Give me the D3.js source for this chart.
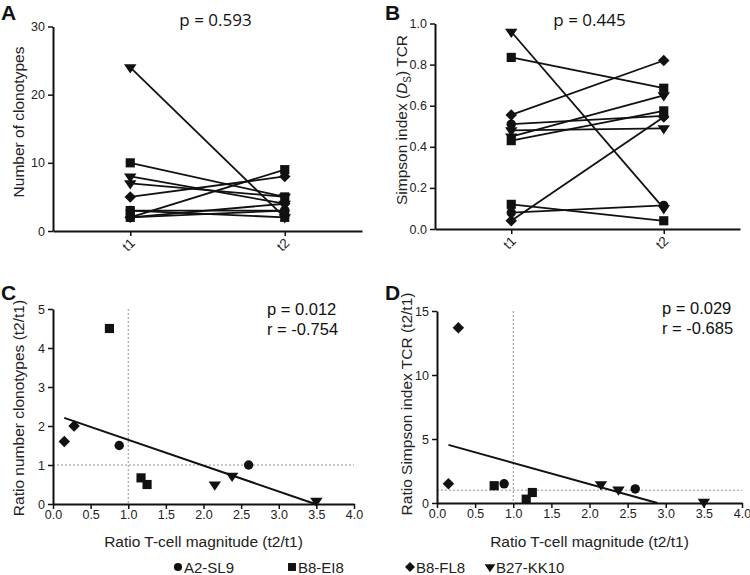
<!DOCTYPE html>
<html>
<head>
<meta charset="utf-8">
<script src="https://cdn.jsdelivr.net/npm/d3@7"></script>
<style>
  html, body { margin: 0; padding: 0; background: #fff; }
  svg { display: block; font-family: "Liberation Sans", Arial, sans-serif; }
</style>
</head>
<body>
<svg id="chart" width="750" height="575"></svg>
<script>
// ---------------- DATA ----------------
const groups = ["A2-SL9", "B8-EI8", "B8-FL8", "B27-KK10"];
const timepoints = ["t1", "t2"];
// one entry per subject
const subjectGroup = ["B27-KK10", "B8-EI8", "B27-KK10", "B27-KK10", "B8-FL8", "B8-EI8", "B8-EI8", "A2-SL9", "A2-SL9", "B8-FL8"];
const clonotypesT1 = [24, 10, 8, 7, 5, 2, 3, 2, 3, 2];
const clonotypesT2 = [2, 5, 4, 5, 8, 9, 2, 3, 3, 4];
const simpsonT1 = [0.96, 0.835, 0.45, 0.48, 0.555, 0.43, 0.12, 0.08, 0.51, 0.04];
const simpsonT2 = [0.10, 0.685, 0.65, 0.49, 0.82, 0.575, 0.04, 0.115, 0.55, 0.545];
const ratioMagnitude = [3.5, 1.25, 2.15, 2.38, 0.15, 0.75, 1.17, 0.88, 2.6, 0.28];
const ratioClonotypes = [0.08, 0.5, 0.5, 0.72, 1.6, 4.5, 0.67, 1.5, 1.0, 2.0];
const ratioSimpson = [0.1, 0.82, 1.45, 1.05, 1.5, 1.35, 0.3, 1.5, 1.1, 13.7];
const yTicksA = [0, 10, 20, 30];
const yTicksB = [0, 0.2, 0.4, 0.6, 0.8, 1.0];
const yTicksC = [0, 1, 2, 3, 4, 5];
const yTicksD = [0, 5, 10, 15];
const xTicksCD = [0, 0.5, 1, 1.5, 2, 2.5, 3, 3.5, 4];
const statsA = "p = 0.593";
const statsB = "p = 0.445";
const statsC = ["p = 0.012", "r = -0.754"];
const statsD = ["p = 0.029", "r = -0.685"];

// ---------------- SHAPES ----------------
const diamond = { draw(ctx, size) { const r = Math.sqrt(size / 2); ctx.moveTo(0, -r); ctx.lineTo(r, 0); ctx.lineTo(0, r); ctx.lineTo(-r, 0); ctx.closePath(); } };
const triDown = { draw(ctx, size) { const w = Math.sqrt(size * 2 / 0.9) / 2, h = w * 0.9; ctx.moveTo(-w, -h * 0.55); ctx.lineTo(w, -h * 0.55); ctx.lineTo(0, h * 1.1); ctx.closePath(); } };
const shapeOf = { "A2-SL9": d3.symbolCircle, "B8-EI8": d3.symbolSquare, "B8-FL8": diamond, "B27-KK10": triDown };
const sizeOf = { "A2-SL9": 70, "B8-EI8": 84, "B8-FL8": 66, "B27-KK10": 70 };

const svg = d3.select("#chart");
const INK = "#111";
const TXT = "#222";

function styleAxis(g) {
  g.attr("font-family", null);
  g.selectAll(".domain").attr("stroke", INK).attr("stroke-width", 2);
  g.selectAll(".tick line").attr("stroke", INK).attr("stroke-width", 1.5);
  g.selectAll(".tick text").attr("fill", TXT).style("font-size", "12.5px");
}

function marker(sel, grp, scale) {
  sel.attr("d", d3.symbol().type(shapeOf[grp]).size(sizeOf[grp] * (scale || 1))()).attr("fill", INK);
}

function panelLetter(txt, x, y) {
  svg.append("text").attr("x", x).attr("y", y).text(txt)
    .style("font-size", "21px").style("font-weight", "bold").attr("fill", INK);
}

function yLabel(x, y, build) {
  const t = svg.append("text").attr("transform", `translate(${x},${y}) rotate(-90)`)
    .attr("text-anchor", "middle").attr("fill", TXT).style("font-size", "15.5px");
  build(t);
}

// ---------------- PAIRED PANELS ----------------
function pairedPanel(cfg) {
  const x = d3.scalePoint().domain(timepoints).range([cfg.x0, cfg.x1]).padding(0.5);
  const y = d3.scaleLinear().domain(cfg.domain).range([cfg.yb, cfg.yt]);
  const gy = svg.append("g").attr("transform", `translate(${cfg.x0},0)`)
    .call(d3.axisLeft(y).tickValues(cfg.ticks).tickFormat(cfg.fmt).tickSize(5).tickSizeOuter(0));
  styleAxis(gy);
  const gx = svg.append("g").attr("transform", `translate(0,${cfg.yb})`)
    .call(d3.axisBottom(x).tickSize(5).tickSizeOuter(0));
  styleAxis(gx);
  gx.selectAll(".tick text").attr("text-anchor", "end").attr("dy", null).attr("y", null)
    .style("font-size", "13.5px")
    .attr("transform", "translate(5,13) rotate(-45)");
  const data = subjectGroup.map((g, i) => ({ g, a: cfg.t1[i], b: cfg.t2[i] }));
  svg.append("g").selectAll("line").data(data).join("line")
    .attr("x1", x("t1")).attr("x2", x("t2"))
    .attr("y1", d => y(d.a)).attr("y2", d => y(d.b))
    .attr("stroke", INK).attr("stroke-width", 1.8);
  const pts = [];
  data.forEach(d => { pts.push({ g: d.g, t: "t1", v: d.a }); pts.push({ g: d.g, t: "t2", v: d.b }); });
  svg.append("g").selectAll("path").data(pts).join("path")
    .attr("transform", d => `translate(${x(d.t)},${y(d.v)})`)
    .each(function (d) { marker(d3.select(this), d.g); });
  svg.append("text").attr("x", (cfg.x0 + cfg.x1) / 2 + cfg.pdx).attr("y", cfg.py).attr("text-anchor", "middle")
    .attr("fill", INK).style("font-size", "17px").style("font-family", "'Open Sans', 'Liberation Sans', sans-serif").text(cfg.p);
}

pairedPanel({ x0: 53, x1: 362, yt: 26.5, yb: 231, domain: [0, 30], ticks: yTicksA, fmt: d3.format("d"),
  t1: clonotypesT1, t2: clonotypesT2, p: statsA, pdx: 8, py: 26 });
pairedPanel({ x0: 435, x1: 740, yt: 23.5, yb: 229, domain: [0, 1], ticks: yTicksB, fmt: d3.format(".1f"),
  t1: simpsonT1, t2: simpsonT2, p: statsB, pdx: 2, py: 26 });

panelLetter("A", 1, 20);
panelLetter("B", 385, 20);
yLabel(24, 122, t => t.text("Number of clonotypes"));
yLabel(407, 120, t => {
  t.append("tspan").text("Simpson index (");
  t.append("tspan").style("font-style", "italic").text("D");
  t.append("tspan").attr("dy", 4).style("font-size", "10px").text("S");
  t.append("tspan").attr("dy", -4).text(") TCR");
});

// ---------------- SCATTER PANELS ----------------
function regression(xs, ys) {
  const mx = d3.mean(xs), my = d3.mean(ys);
  let sxy = 0, sxx = 0;
  xs.forEach((v, i) => { sxy += (v - mx) * (ys[i] - my); sxx += (v - mx) * (v - mx); });
  const b = sxy / sxx, a = my - b * mx;
  return { a, b };
}

function scatterPanel(cfg) {
  const x = d3.scaleLinear().domain([0, 4]).range([cfg.x0, cfg.x1]);
  const y = d3.scaleLinear().domain(cfg.domain).range([cfg.yb, cfg.yt]);
  // reference lines
  svg.append("line").attr("x1", x(1)).attr("x2", x(1)).attr("y1", cfg.yt).attr("y2", cfg.yb)
    .attr("stroke", "#777").attr("stroke-width", 0.8).attr("stroke-dasharray", "2,2");
  svg.append("line").attr("x1", cfg.x0).attr("x2", cfg.x1).attr("y1", y(1)).attr("y2", y(1))
    .attr("stroke", "#777").attr("stroke-width", 0.8).attr("stroke-dasharray", "2,2");
  const gy = svg.append("g").attr("transform", `translate(${cfg.x0},0)`)
    .call(d3.axisLeft(y).tickValues(cfg.ticks).tickFormat(d3.format("d")).tickSize(5).tickSizeOuter(0));
  styleAxis(gy);
  const gx = svg.append("g").attr("transform", `translate(0,${cfg.yb})`)
    .call(d3.axisBottom(x).tickValues(xTicksCD).tickFormat(d3.format(".1f")).tickSize(5).tickSizeOuter(0));
  styleAxis(gx);
  gx.selectAll(".tick text").attr("y", 6);
  // regression line over data range, clipped at 0
  const { a, b } = regression(ratioMagnitude, cfg.ys);
  const xa = d3.min(ratioMagnitude);
  let xb = d3.max(ratioMagnitude);
  if (a + b * xb < 0) xb = -a / b;
  svg.append("line").attr("x1", x(xa)).attr("y1", y(a + b * xa)).attr("x2", x(xb)).attr("y2", y(a + b * xb))
    .attr("stroke", INK).attr("stroke-width", 2);
  const pts = subjectGroup.map((g, i) => ({ g, vx: ratioMagnitude[i], vy: cfg.ys[i] }));
  svg.append("g").selectAll("path").data(pts).join("path")
    .attr("transform", d => `translate(${x(d.vx)},${y(d.vy)})`)
    .each(function (d) { marker(d3.select(this), d.g); });
  cfg.stats.forEach((s, i) => {
    svg.append("text").attr("x", cfg.sx).attr("y", cfg.sy + i * 20).attr("fill", INK)
      .style("font-size", "16.5px").text(s);
  });
  svg.append("text").attr("x", (cfg.x0 + cfg.x1) / 2).attr("y", 547).attr("text-anchor", "middle")
    .attr("fill", TXT).style("font-size", "15.5px").text("Ratio T-cell magnitude (t2/t1)");
}

scatterPanel({ x0: 53, x1: 354, yt: 309, yb: 504, domain: [0, 5], ticks: yTicksC, ys: ratioClonotypes,
  stats: statsC, sx: 267, sy: 315 });
scatterPanel({ x0: 437, x1: 742, yt: 311, yb: 503, domain: [0, 15], ticks: yTicksD, ys: ratioSimpson,
  stats: statsD, sx: 662, sy: 314 });

panelLetter("C", 1, 300);
panelLetter("D", 385, 300);
yLabel(24, 408, t => t.text("Ratio number clonotypes (t2/t1)"));
yLabel(412, 404, t => t.text("Ratio Simpson index TCR (t2/t1)"));

// ---------------- LEGEND ----------------
const legendX = [178, 292, 410, 490];
const lg = svg.append("g");
groups.forEach((g, i) => {
  lg.append("path").attr("transform", `translate(${legendX[i]},${567})`).call(s => marker(s, g, 0.75));
  lg.append("text").attr("x", legendX[i] + 6).attr("y", 572.5).attr("fill", TXT)
    .style("font-size", "15px").text(g);
});
</script>
</body>
</html>
